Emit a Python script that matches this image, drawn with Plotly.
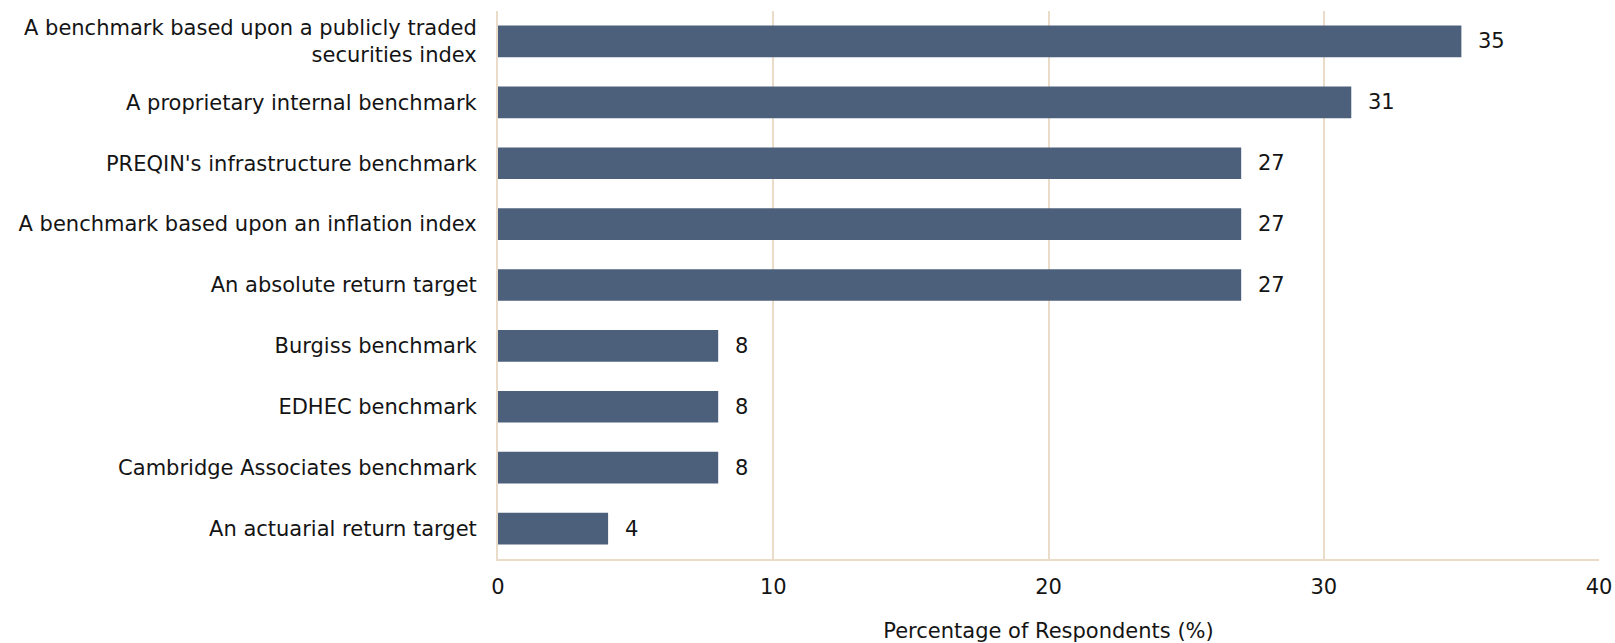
import plotly.graph_objects as go

categories = [
    "A benchmark based upon a publicly traded<br>securities index",
    "A proprietary internal benchmark",
    "PREQIN's infrastructure benchmark",
    "A benchmark based upon an inflation index",
    "An absolute return target",
    "Burgiss benchmark",
    "EDHEC benchmark",
    "Cambridge Associates benchmark",
    "An actuarial return target",
]
values = [35, 31, 27, 27, 27, 8, 8, 8, 4]
x_ticks = [0, 10, 20, 30, 40]

FONT = "DejaVu Sans, Verdana, sans-serif"
FS = 21
GRID = "#EADCC8"
INK = "#141414"

fig = go.Figure(
    go.Bar(
        x=values,
        y=categories,
        orientation="h",
        marker=dict(color="#4C607C", line=dict(width=0)),
        width=0.52,
        hoverinfo="x+y",
    )
)

# value labels just past the end of each bar
for cat, val in zip(categories, values):
    fig.add_annotation(
        x=val, y=cat, text=str(val), showarrow=False,
        xanchor="left", yanchor="middle", xshift=15,
        font=dict(family=FONT, size=FS, color=INK),
    )

fig.update_layout(
    width=1615,
    height=643,
    margin=dict(l=498, r=16, t=11, b=84),
    paper_bgcolor="white",
    plot_bgcolor="white",
    showlegend=False,
    font=dict(family=FONT, size=FS, color=INK),
)

fig.update_xaxes(
    range=[0, 40],
    tickvals=x_ticks,
    showgrid=True,
    gridcolor=GRID,
    gridwidth=2,
    showline=True,
    linecolor=GRID,
    linewidth=2,
    zeroline=False,
    ticks="outside",
    ticklen=8,
    tickcolor="rgba(0,0,0,0)",
    automargin=False,
    title=dict(text="Percentage of Respondents (%)", standoff=30,
               font=dict(family=FONT, size=FS)),
    tickfont=dict(family=FONT, size=FS),
)

fig.update_yaxes(
    categoryorder="array",
    categoryarray=categories[::-1],
    showline=True,
    linecolor=GRID,
    linewidth=2,
    showgrid=False,
    ticks="outside",
    ticklen=15,
    tickcolor="rgba(0,0,0,0)",
    automargin=False,
    tickfont=dict(family=FONT, size=FS),
)

fig.write_html("out.html")
